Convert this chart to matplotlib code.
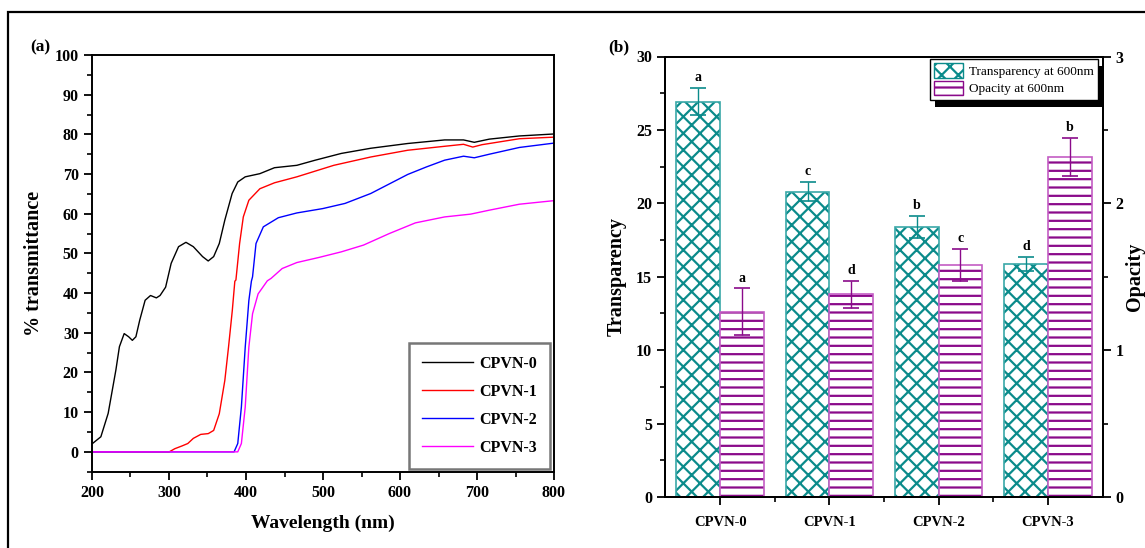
import numpy as np
import matplotlib
matplotlib.use("Agg")
import matplotlib.pyplot as plt
from matplotlib.patches import Rectangle, Patch
from matplotlib.ticker import MultipleLocator, FixedLocator

plt.rcParams['font.family'] = ['Liberation Serif', 'DejaVu Serif']
plt.rcParams['font.weight'] = 'bold'
plt.rcParams['hatch.linewidth'] = 1.6

# ---------------- Panel (a) data: UV-vis transmittance ----------------
wl0 = [200, 211.5, 221, 231, 235.6, 241.8, 247.6, 252.4, 257, 262, 269, 276, 283.6, 288.4, 295.6,
       302.8, 312.4, 322, 331.6, 343.6, 350.9, 358, 365.3, 372.5, 382, 389.3, 399, 418, 437, 466,
       490, 523.8, 562, 610, 658, 682.5, 696.5, 716, 755, 800]
t0 = [2.0, 3.8, 9.7, 20.6, 26.5, 29.8, 29.0, 28.1, 29.0, 33.2, 38.2, 39.4, 38.8, 39.4, 41.5,
      47.5, 51.7, 52.8, 51.7, 49.2, 48.1, 49.2, 52.5, 58.4, 65.1, 68.0, 69.3, 70.1, 71.6, 72.2,
      73.5, 75.2, 76.5, 77.7, 78.6, 78.6, 78.0, 78.8, 79.6, 80.1]

wl1 = [200, 300.3, 307.6, 317, 324.4, 331.6, 341.2, 351, 358, 365.3, 372.5, 377.3, 382.2, 385.5,
       386.9, 391.7, 396.5, 403.7, 418, 437, 466, 514, 562, 610, 658, 682.5, 694.5, 706.4, 755, 800]
t1 = [0, 0, 0.8, 1.5, 2.1, 3.4, 4.4, 4.6, 5.4, 9.6, 18.0, 26.4, 35.6, 43.0,
      43.3, 52.5, 59.2, 63.4, 66.3, 67.8, 69.3, 72.2, 74.3, 76.0, 77.0, 77.5, 76.8, 77.4, 78.9, 79.3]

wl2 = [200, 384.5, 389.3, 394, 399, 403.7, 407, 408.5, 413, 422.5, 442, 466, 499.7, 528.6, 562,
       591, 610, 634.4, 658, 682.5, 696.5, 716, 755, 800]
t2 = [0, 0, 2.1, 11.3, 26.4, 38.1, 43.0, 44.1, 52.5, 56.7, 59.0, 60.2, 61.3, 62.6, 65.1,
      68.0, 69.9, 71.8, 73.5, 74.5, 74.1, 75.0, 76.7, 77.8]

wl3 = [200, 389.3, 394, 399, 403.7, 408.5, 415.7, 427.7, 432.5, 447, 466, 495, 523.8, 552.6,
       586, 620, 658, 691.7, 716, 755, 800]
t3 = [0, 0, 2.1, 11.3, 26.4, 34.8, 39.8, 43.1, 43.7, 46.2, 47.7, 49.0, 50.4, 52.1,
      55.0, 57.7, 59.2, 59.9, 60.9, 62.4, 63.3]

series_names = ['CPVN-0', 'CPVN-1', 'CPVN-2', 'CPVN-3']
line_colors = ['black', '#ff0000', '#0000ff', '#ff00ff']

# ---------------- Panel (b) data: transparency / opacity ----------------
samples = ['CPVN-0', 'CPVN-1', 'CPVN-2', 'CPVN-3']
transparency = [26.93, 20.8, 18.38, 15.86]
transparency_err = [0.94, 0.65, 0.75, 0.5]
transparency_letters = ['a', 'c', 'b', 'd']
opacity = [1.261, 1.382, 1.58, 2.318]
opacity_err = [0.161, 0.092, 0.109, 0.13]
opacity_letters = ['a', 'd', 'c', 'b']

teal = '#0b8b8b'
teal_edge = '#3aa8a8'
purple = '#8a0a8a'
purple_edge = '#c45cc4'

fig = plt.figure(figsize=(11.45, 5.48), dpi=100)
W, H = 1145, 548

def ax_rect(x0, y0, x1, y1):
    return [x0 / W, 1 - y1 / H, (x1 - x0) / W, (y1 - y0) / H]

# ---------------- Panel (a) ----------------
ax = fig.add_axes(ax_rect(92, 55, 554, 471.7))
for wl, t, name, c in zip([wl0, wl1, wl2, wl3], [t0, t1, t2, t3], series_names, line_colors):
    ax.plot(wl, t, color=c, lw=1.0, label=name)
ax.set_xlim(200, 800)
ax.set_ylim(-5, 100)
ax.xaxis.set_major_locator(MultipleLocator(100))
ax.xaxis.set_minor_locator(MultipleLocator(50))
ax.yaxis.set_major_locator(FixedLocator(np.arange(0, 101, 10)))
ax.yaxis.set_minor_locator(FixedLocator(np.arange(-5, 100, 10)))
ax.tick_params(which='major', direction='out', length=6, width=1.3, labelsize=11.5)
ax.tick_params(which='minor', direction='out', length=3.5, width=1.2)
for s in ax.spines.values():
    s.set_linewidth(1.4)
ax.set_xlabel('Wavelength (nm)', fontsize=14, fontweight='bold', labelpad=10)
ax.set_ylabel('% transmittance', fontsize=14.5, fontweight='bold', labelpad=8)
leg = ax.legend(loc='lower right', bbox_to_anchor=(0.9985, 0.0), fontsize=11.5, frameon=True,
                fancybox=False, edgecolor='#555555', handlelength=3.2, handletextpad=0.4,
                labelspacing=0.75, borderpad=0.8, borderaxespad=0.2)
leg.get_frame().set_linewidth(1.8)
fig.text(30 / W, 1 - 47 / H, '(a)', fontsize=12.5, fontweight='bold', ha='left', va='center')

# ---------------- Panel (b) ----------------
bx = fig.add_axes(ax_rect(665.5, 56.5, 1102.5, 497))
bx2 = bx.twinx()
x = np.arange(1, len(samples) + 1)
w = 0.4
bx.bar(x - w / 2, transparency, width=w, facecolor='white', edgecolor=teal,
       hatch='xx', linewidth=0)
bx.bar(x - w / 2, transparency, width=w, fill=False, edgecolor=teal_edge, linewidth=1.2)
bx.errorbar(x - w / 2, transparency, yerr=transparency_err, fmt='none', ecolor=teal,
            elinewidth=1.0, capsize=6, capthick=1.2)
bx2.bar(x + w / 2, opacity, width=w, facecolor='white', edgecolor=purple,
        hatch='--', linewidth=0)
bx2.bar(x + w / 2, opacity, width=w, fill=False, edgecolor=purple_edge, linewidth=1.2)
bx2.errorbar(x + w / 2, opacity, yerr=opacity_err, fmt='none', ecolor=purple,
             elinewidth=1.0, capsize=6, capthick=1.2)
for xi, v, e, l in zip(x, transparency, transparency_err, transparency_letters):
    bx.text(xi - w / 2, v + e + 0.25, l, ha='center', va='bottom', fontsize=10, fontweight='bold')
for xi, v, e, l in zip(x, opacity, opacity_err, opacity_letters):
    bx2.text(xi + w / 2, v + e + 0.025, l, ha='center', va='bottom', fontsize=10, fontweight='bold')

bx.set_xlim(0.5, 4.5)
bx.set_ylim(0, 30)
bx2.set_ylim(0, 3)
bx.set_xticks(x)
bx.set_xticklabels(samples)
bx.xaxis.set_minor_locator(FixedLocator([1.5, 2.5, 3.5]))
bx.yaxis.set_major_locator(MultipleLocator(5))
bx.yaxis.set_minor_locator(MultipleLocator(2.5))
bx2.yaxis.set_major_locator(MultipleLocator(1))
bx2.yaxis.set_minor_locator(MultipleLocator(0.5))
for a in (bx, bx2):
    a.tick_params(which='major', direction='out', length=6, width=1.3, labelsize=11.5)
    a.tick_params(which='minor', direction='out', length=3.5, width=1.2)
    for s in a.spines.values():
        s.set_linewidth(1.4)
bx.tick_params(axis='x', which='major', labelsize=10.5, pad=8)
bx.set_ylabel('Transparency', fontsize=14.5, fontweight='bold', labelpad=7)
bx2.set_ylabel('Opacity', fontsize=14.5, fontweight='bold', labelpad=1)
handles = [Patch(facecolor='white', edgecolor=teal, hatch='xx', label='Transparency at 600nm'),
           Patch(facecolor='white', edgecolor=purple, hatch='--', label='Opacity at 600nm')]
leg2 = bx2.legend(handles=handles, loc='upper right', bbox_to_anchor=(0.99, 0.995),
                  prop={'family': 'Liberation Serif', 'weight': 'normal', 'size': 9.5},
                  frameon=True, fancybox=False, edgecolor='black', framealpha=1,
                  handlelength=2.2, handleheight=1.3, handletextpad=0.4,
                  labelspacing=0.2, borderpad=0.35, borderaxespad=0.0)
leg2.get_frame().set_linewidth(1.0)
fig.text(619 / W, 1 - 47 / H, '(b)', fontsize=12.5, fontweight='bold', ha='center', va='center')

# shadow behind legend (b)
fig.canvas.draw()
bb = leg2.get_window_extent()
sh = Rectangle(((bb.x0 + 5) / W, (bb.y0 - 7) / H), bb.width / W, bb.height / H,
               transform=fig.transFigure, facecolor='black', edgecolor='none', zorder=4)
bx2.add_artist(sh)
leg2.set_zorder(6)

# outer frame
fig.add_artist(Rectangle((8 / W, -0.2), 1.2, 1.2 - 12 / H, transform=fig.transFigure,
                         fill=False, edgecolor='black', linewidth=1.6))

fig.savefig('out.png', dpi=100, facecolor='white')
